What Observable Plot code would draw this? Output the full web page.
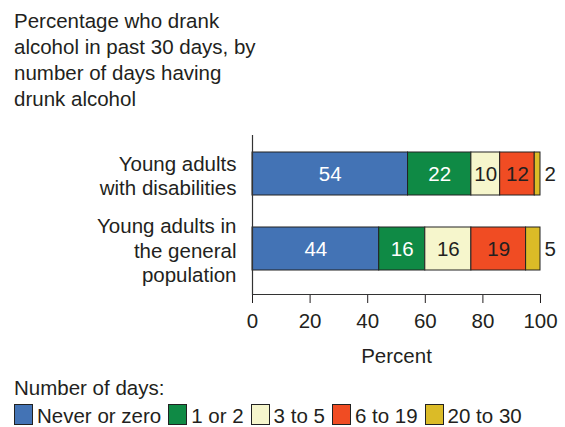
<!DOCTYPE html>
<html><head><meta charset="utf-8">
<script src="https://cdn.jsdelivr.net/npm/d3@7"></script>
<script src="https://cdn.jsdelivr.net/npm/@observablehq/plot@0.6"></script>
<style>
body{margin:0;background:#fff;font-family:"Liberation Sans",Arial,sans-serif;color:#231f20;}
#wrap{position:relative;width:565px;height:427px;overflow:hidden}
#title{position:absolute;left:14px;top:8px;font-size:20.5px;line-height:26px}
#chart{position:absolute;left:0;top:110px}
#legtitle{position:absolute;left:14px;top:375px;font-size:20.5px;line-height:26px}
#legend{position:absolute;left:14px;top:403px;font-size:20.5px;line-height:26px;white-space:nowrap}
.sw{display:inline-block;width:17px;height:19px;border:1px solid #222;vertical-align:-2px;margin-right:4px}
.item{margin-right:7px}
</style></head><body>
<div id="wrap">
  <div id="title"></div>
  <div id="chart"></div>
  <div id="legtitle"></div>
  <div id="legend"></div>
</div>
<script>
const titleLines = ["Percentage who drank", "alcohol in past 30 days, by", "number of days having", "drunk alcohol"];
const groups = ["Young adults\nwith disabilities", "Young adults in\nthe general\npopulation"];
const categories = ["Never or zero", "1 or 2", "3 to 5", "6 to 19", "20 to 30"];
const disabilities = [54, 22, 10, 12, 2];
const general = [44, 16, 16, 19, 5];
const colors = ["#4373b5", "#0f8a45", "#f6f6cc", "#f04c23", "#dbbb27"];
const xTicks = [0, 20, 40, 60, 80, 100];
const xLabel = "Percent";
const legendTitle = "Number of days:";
const whiteLabelCats = ["Never or zero", "1 or 2"];
const darkLabelCats = ["3 to 5", "6 to 19"];
const outsideCats = ["20 to 30"];

const series = [disabilities, general];
const rows = groups.flatMap((g, i) => categories.map((c, j) => ({group: g, category: c, value: series[i][j]})));

document.getElementById("title").innerHTML = titleLines.join("<br>");
document.getElementById("legtitle").textContent = legendTitle;

const ink = "#231f20";
const fs = 20.5;
const labelFor = cats => d => cats.includes(d.category) ? String(d.value) : "";
const chart = Plot.plot({
  width: 565,
  height: 255,
  marginLeft: 252,
  marginRight: 25,
  marginTop: 25,
  marginBottom: 71,
  style: {fontFamily: "Liberation Sans, Arial, sans-serif", fontSize: fs + "px", color: ink, background: "white"},
  x: {domain: [0, 100], ticks: xTicks, tickSize: 9, tickPadding: 10, label: null, tickFormat: d => String(d)},
  y: {domain: groups, range: [41, 160], paddingInner: 0.43, paddingOuter: 0, axis: null},
  color: {domain: categories, range: colors},
  marks: [
    Plot.barX(rows, Plot.stackX({x: "value", y: "group", fill: "category", stroke: "#222", strokeWidth: 1})),
    Plot.ruleX([0], {stroke: "#333", strokeWidth: 1.2}),
    Plot.frame({anchor: "bottom", stroke: "#333", strokeWidth: 1.2}),
    Plot.text(rows, Plot.stackX({x: "value", y: "group", text: labelFor(whiteLabelCats), fill: "white", fontSize: fs})),
    Plot.text(rows, Plot.stackX({x: "value", y: "group", text: labelFor(darkLabelCats), fill: ink, fontSize: fs})),
    Plot.text(rows, Plot.stackX2({x: "value", y: "group", text: labelFor(outsideCats), fill: ink, fontSize: fs, textAnchor: "start", dx: 4})),
    Plot.text(groups, {y: d => d, text: d => d, frameAnchor: "left", dx: -16, dy: 1, textAnchor: "end", lineHeight: 1.2, fill: ink, fontSize: fs}),
    Plot.text([xLabel], {text: d => d, frameAnchor: "bottom", dy: 68, fill: ink, fontSize: fs})
  ]
});
document.getElementById("chart").appendChild(chart);

const leg = document.getElementById("legend");
categories.forEach((c, i) => {
  const item = document.createElement("span");
  item.className = "item";
  const sw = document.createElement("span");
  sw.className = "sw";
  sw.style.background = colors[i];
  item.appendChild(sw);
  item.appendChild(document.createTextNode(c));
  leg.appendChild(item);
});
</script>
</body></html>
